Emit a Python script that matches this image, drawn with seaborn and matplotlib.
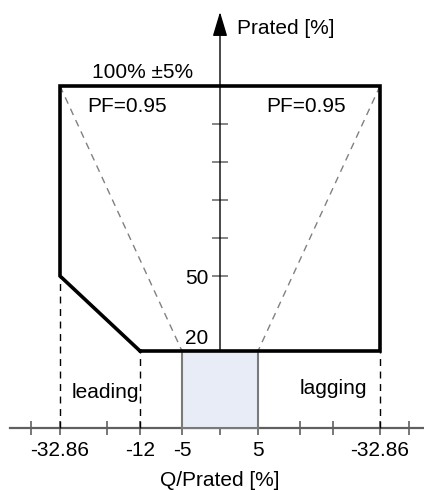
import numpy as np
import matplotlib
matplotlib.use("Agg")
import matplotlib.pyplot as plt
from matplotlib.patches import Rectangle
import seaborn as sns

# --- data (Q/Prated and P/Prated in %) ---
q_outline = [-12, -32.86, -32.86, 32.86, 32.86, -12]
p_outline = [20, 50, 100, 100, 20, 20]

pf_left_q, pf_left_p = [-32.86, -5], [100, 20]
pf_right_q, pf_right_p = [32.86, 5], [100, 20]

# dashed drop lines: (q, p_top)
drop_q = [-32.86, -12, 32.86]
drop_p = [50, 20, 20]

box_q = [-5, 5]
box_p = [0, 20]

x_ticks = [-40, -32.86, -20, -12, -5, 0, 5, 12, 20, 32.86, 40]
x_labels = ["", "-32.86", "", "-12", "-5", "", "5", "", "", "-32.86", ""]
y_ticks = [50, 60, 70, 80, 90]
y_labels = ["50", "", "", "", ""]

# --- schematic (non-linear) scales: value -> pixel offset from origin ---
QK = [0, 5, 12, 20, 32.86, 40, 100]
QPX = [0, 38, 80, 113, 160, 189, 400]
PK = [-100, 0, 20, 50, 100, 200]
PPX = [-390, 0, 77, 152, 342, 722]


def fx(q):
    q = np.asarray(q, dtype=float)
    return np.sign(q) * np.interp(np.abs(q), QK, QPX)


def ifx(v):
    v = np.asarray(v, dtype=float)
    return np.sign(v) * np.interp(np.abs(v), QPX, QK)


def fy(p):
    return np.interp(np.asarray(p, dtype=float), PK, PPX)


def ify(v):
    return np.interp(np.asarray(v, dtype=float), PPX, PK)


sns.set_theme(style="white")
plt.rcParams["font.family"] = ["Liberation Sans", "DejaVu Sans"]
plt.rcParams["text.color"] = "black"
FS = 15

W, H = 424, 490
fig = plt.figure(figsize=(W / 100, H / 100), dpi=100)
ax = fig.add_axes([0, 0, 1, 1])
ax.set_xscale("function", functions=(fx, ifx))
ax.set_yscale("function", functions=(fy, ify))
# origin sits at pixel (220, 428) of the canvas
ax.set_xlim(float(ifx(-220)), float(ifx(W - 220)))
ax.set_ylim(float(ify(-(H - 428))), float(ify(428)))


def px(x, y):
    # canvas pixel (from top-left) -> figure fraction
    return x / W, 1 - y / H


# shaded operating box
ax.add_patch(Rectangle((box_q[0], box_p[0]), box_q[1] - box_q[0], box_p[1] - box_p[0],
                       facecolor="#e8ecf6", edgecolor="#7a7a7a", lw=1.5, zorder=4))

# power-factor dashed lines
for qq, pp in [(pf_left_q, pf_left_p), (pf_right_q, pf_right_p)]:
    sns.lineplot(x=qq, y=pp, sort=False, estimator=None, ax=ax,
                 color="#808080", lw=1, zorder=3).lines[-1].set_dashes((5, 4))

# vertical dashed drop lines
for qd, pd_ in zip(drop_q, drop_p):
    ln, = ax.plot([qd, qd], [0, pd_], color="black", lw=1, zorder=3)
    ln.set_dashes((5, 4))

# capability outline
sns.lineplot(x=q_outline, y=p_outline, sort=False, estimator=None, ax=ax,
             color="black", lw=2.6, zorder=5)
ax.lines[-1].set_solid_joinstyle("miter")

# vertical axis with arrow
ax.annotate("", xy=(0, float(ify(416))), xytext=(0, 0),
            arrowprops=dict(arrowstyle="-|>,head_length=1.0,head_width=0.3",
                            color="black", lw=1, shrinkA=0, shrinkB=0,
                            mutation_scale=15), zorder=3)

# spines / ticks
for s in ["top", "right", "left"]:
    ax.spines[s].set_visible(False)
ax.spines["left"].set_position(("data", 0))
ax.spines["bottom"].set_position(("data", 0))
ax.spines["bottom"].set_bounds(float(ifx(-210)), float(ifx(W - 220)))
ax.spines["bottom"].set_color("#606060")
ax.spines["bottom"].set_linewidth(1.6)

ax.set_xticks(x_ticks)
ax.set_xticklabels(x_labels)
ax.set_yticks(y_ticks)
ax.set_yticklabels(y_labels)
ax.minorticks_off()
ax.tick_params(axis="x", direction="inout", length=10, width=1.2, color="#606060",
               labelsize=FS, labelcolor="black", pad=4, bottom=True)
ax.tick_params(axis="y", direction="inout", length=11, width=1.2, color="#707070",
               labelsize=FS, labelcolor="black", pad=3, left=True)

# annotations
ax.text(*px(237, 29), "Prated [%]", transform=fig.transFigure, fontsize=FS, va="center", ha="left")
ax.text(*px(143, 72), "100% ±5%", transform=fig.transFigure, fontsize=FS, va="center", ha="center")
ax.text(*px(127, 107), "PF=0.95", transform=fig.transFigure, fontsize=FS, va="center", ha="center")
ax.text(*px(306, 107), "PF=0.95", transform=fig.transFigure, fontsize=FS, va="center", ha="center")
ax.text(*px(208, 339), "20", transform=fig.transFigure, fontsize=FS, va="center", ha="right")
ax.text(*px(105, 393), "leading", transform=fig.transFigure, fontsize=FS, va="center", ha="center")
ax.text(*px(333, 389), "lagging", transform=fig.transFigure, fontsize=FS, va="center", ha="center")
ax.text(*px(220, 480), "Q/Prated [%]", transform=fig.transFigure, fontsize=FS, va="center", ha="center")

fig.savefig("out.png", dpi=100)
